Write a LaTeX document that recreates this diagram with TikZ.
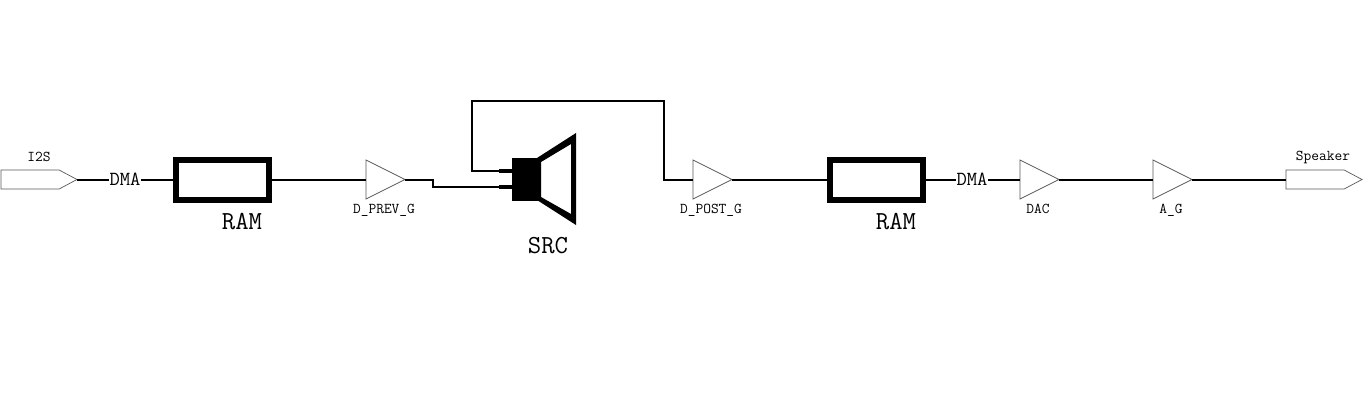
\documentclass[tikz,border=0pt]{standalone}
\usepackage{fontspec}
\setmonofont{Latin Modern Mono}
\usetikzlibrary{shapes.geometric,shapes.symbols}

\begin{document}
\begin{tikzpicture}[x=1pt,y=-1pt,every node/.style={inner sep=0pt,outer sep=0pt},
        wire/.style={line width=2pt},
        gain/.style={isosceles triangle,isosceles triangle stretches,draw=black!65,line width=.7pt,
          minimum width=39pt,minimum height=39pt,anchor=lower side},
        port/.style={signal,signal to=east,signal pointer angle=56,draw=black!65,line width=.7pt,
          minimum width=76pt,minimum height=19pt,anchor=west},
        ram/.style={rectangle,draw,line width=6pt,minimum width=93pt,minimum height=40pt},
        small/.style={font=\ttfamily\fontsize{15}{15}\selectfont},
        mid/.style={font=\ttfamily\fontsize{20}{20}\selectfont},
        big/.style={font=\ttfamily\fontsize{26}{26}\selectfont}]

  \useasboundingbox (0,0) rectangle (1367,409);

  \node[port] (i2s) at (1,179.5) {};
  \node[mid,fill=white,inner xsep=1pt] (dma_in) at (125,179.5) {DMA};
  \node[ram] (ram_in) at (222,179.5) {};
  \node[gain] (d_prev) at (366,179.5) {};
  \node[gain] (d_post) at (693,179.5) {};
  \node[ram] (ram_out) at (876,179.5) {};
  \node[mid,fill=white,inner xsep=1pt] (dma_out) at (972,179.5) {DMA};
  \node[gain] (dac) at (1020,179.5) {};
  \node[gain] (a_g) at (1153,179.5) {};
  \node[port] (spk) at (1286,179.5) {};

  % the SRC block
  \node[rectangle,fill=black,minimum width=27pt,minimum height=43pt] (src) at (525.5,179) {};
  \fill[even odd rule] (537,158) -- (576,133) -- (576,225) -- (537,200) -- cycle
        (541,162) -- (571,144) -- (571,214) -- (541,197) -- cycle;
  \coordinate (pin_a) at (499,171);
  \coordinate (pin_b) at (499,187);
  \coordinate (pin_a_in) at (512,171);
  \coordinate (pin_b_in) at (512,187);
  \coordinate (top_l) at (472,101);
  \coordinate (top_r) at (664,101);
  \coordinate (step) at (433,187);

  \path[wire] (i2s.east) edge (dma_in)
        (dma_in) edge (ram_in)
        (ram_in) edge (d_prev.lower side)
        (d_post.apex) edge (ram_out)
        (ram_out) edge (dma_out)
        (dma_out) edge (dac.lower side)
        (dac.apex) edge (a_g.lower side)
        (a_g.apex) edge (spk.west);
  \path[line width=4pt] (pin_a) edge (pin_a_in)
        (pin_b) edge (pin_b_in);

  \draw[wire] (d_prev.apex) -| (step) -- (pin_b);
  \draw[wire] (pin_a) -| (top_l) -- (top_r) |- (d_post.lower side);

  \node[small] (i2s_t) at (39,157) {I2S};
  \node[big] (ram_in_t) at (242,222) {RAM};
  \node[small] (d_prev_t) at (384,210) {D\_PREV\_G};
  \node[big] (src_t) at (548,246) {SRC};
  \node[small] (d_post_t) at (711,210) {D\_POST\_G};
  \node[big] (ram_out_t) at (896,222) {RAM};
  \node[small] (dac_t) at (1038,209) {DAC};
  \node[small] (a_g_t) at (1171,210) {A\_G};
  \node[small] (spk_t) at (1323,157) {Speaker};

\end{tikzpicture}
\end{document}
